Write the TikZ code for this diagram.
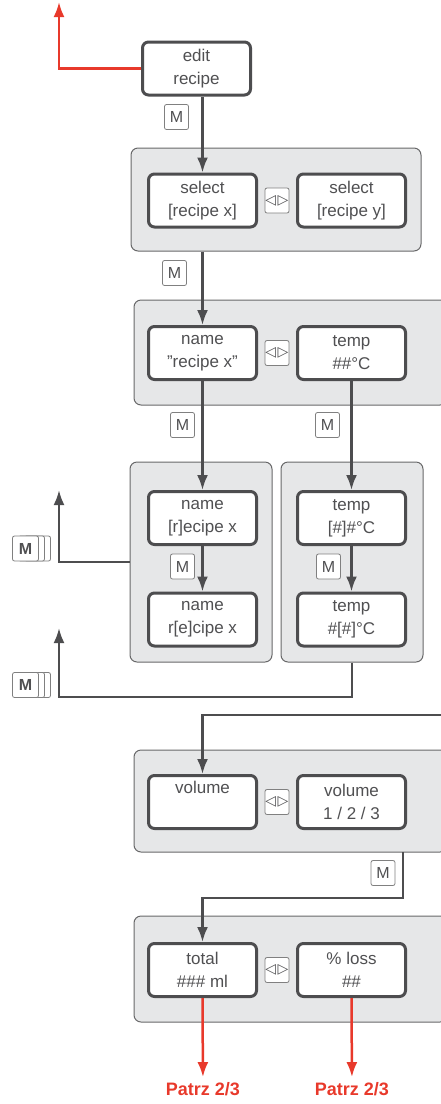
\documentclass[tikz,border=0pt]{standalone}
\usepackage{fontspec}
\setmainfont{Liberation Sans}
\newfontfamily\symfont{DejaVu Sans}
\usetikzlibrary{positioning,arrows.meta,shadows}
\definecolor{ink}{HTML}{505052}
\definecolor{frame}{HTML}{4D4D4F}
\definecolor{panelfill}{HTML}{E6E7E8}
\definecolor{patrz}{HTML}{E8392B}
\newcommand{\lr}{{\symfont\fontsize{14}{14}\selectfont ◁\kern1.5pt▷}}

\begin{document}
\begin{tikzpicture}[x=1pt, y=-1pt, node distance={149pt},
  screen/.style = {draw=frame, line width=3pt, rounded corners=6pt, fill=white,
    minimum width=108pt, minimum height=53pt, align=center, text=ink,
    font=\fontsize{17}{23}\selectfont},
  panel/.style = {draw=frame!85, line width=1pt, rounded corners=7pt, fill=panelfill},
  key/.style = {draw=gray, line width=0.8pt, rounded corners=2pt, fill=white,
    minimum width=24pt, minimum height=25pt, inner sep=0pt, text=ink,
    font=\fontsize{16}{16}\selectfont},
  keys/.style = {key, minimum width=26pt, font=\fontsize{16}{16}\selectfont\bfseries,
    double copy shadow={shadow xshift=6pt, shadow yshift=0pt, draw=gray, fill=white}},
  flow/.style = {draw=frame, line width=2.5pt, -{Latex[length=15pt,width=11pt]}},
  back/.style = {flow, draw=patrz},
  patrz/.style = {text=patrz, font=\fontsize{18}{18}\selectfont\bfseries, inner sep=5pt}]
\useasboundingbox (0,0) rectangle (441,1104);

% panels
\node[panel, minimum width=290pt, minimum height=103pt] (p1) at (276,199.5) {};
\node[panel, minimum width=313pt, minimum height=105pt] (p2) at (290.5,352.5) {};
\node[panel, minimum width=142pt, minimum height=200pt] (p3a) at (201,562) {};
\node[panel, minimum width=142pt, minimum height=200pt] (p3b) at (352,562) {};
\node[panel, minimum width=313pt, minimum height=102pt] (p4) at (290.5,801) {};
\node[panel, minimum width=313pt, minimum height=106pt] (p5) at (290.5,969) {};

% screens
\node[screen] (edit) at (196.5,68.5) {edit\\recipe};
\node[screen] (sx) at (202.5,200.5) {select\\{[recipe x]}};
\node[key, right of=sx, node distance=74.5pt] (lr1) {\lr};
\node[screen, right of=sx] (sy) {select\\{[recipe y]}};

\node[screen] (nx) at (202.5,353) {name\\”recipe x”};
\node[key, right of=nx, node distance=74.5pt] (lr2) {\lr};
\node[screen, right of=nx] (tmp) {temp\\\#\#°C};

\node[screen] (nr1) at (202.5,518) {name\\{[r]ecipe x}};
\node[screen, below of=nr1, node distance=101.5pt] (nr2) {name\\r[e]cipe x};
\node[screen, right of=nr1] (t1) {temp\\{[\#]\#°C}};
\node[screen, right of=nr2] (t2) {temp\\\#[\#]°C};

\node[screen] (vol) at (202.5,802) {volume\\\strut};
\node[key, right of=vol, node distance=74.5pt] (lr3) {\lr};
\node[screen, right of=vol] (vol2) {volume\\1 / 2 / 3};

\node[screen] (tot) at (202.5,970) {total\\\#\#\# ml};
\node[key, right of=tot, node distance=74.5pt] (lr4) {\lr};
\node[screen, right of=tot] (loss) {\% loss\\\#\#};

% keys
\node[key] (m1) at (176.5,117) {M};
\node[key] (m2) at (174.5,273) {M};
\node[key] (m3) at (182.5,425) {M};
\node[key] (m4) at (327.5,425) {M};
\node[key] (m5) at (182.5,566.5) {M};
\node[key] (m6) at (328.5,566.5) {M};
\node[key] (m7) at (383,873) {M};
\node[keys] (mm1) at (25.5,548.5) {M};
\node[keys] (mm2) at (25.5,685) {M};

\node[patrz] (pz1) at (203,1089) {Patrz 2/3};
\node[patrz] (pz2) at (352,1089) {Patrz 2/3};

\coordinate (exit) at (59,2);
\coordinate (up1) at (59,490);
\coordinate (bend2) at (59,697);
\coordinate (up2) at (59,628);
\coordinate (in4) at (447,715);
\coordinate (out4) at (403,852);
\coordinate (bend4) at (403,898);

% connectors
\draw[flow] (edit.south -| sx.north) -- (sx.north);
\draw[flow] (p1.south -| nx.north) -- (nx.north);
\draw[flow] (nx.south) -- (nr1.north);
\draw[flow] (tmp.south) -- (t1.north);
\draw[flow] (nr1.south) -- (nr2.north);
\draw[flow] (t1.south) -- (t2.north);
\draw[flow] (p3a.west) -| (up1);
\draw[flow] (p3b.south) |- (bend2) -- (up2);
\draw[flow] (in4) -| (vol.north);
\draw[flow] (out4) -- (bend4) -| (tot.north);
\draw[back] (edit.west) -| (exit);
\draw[back] (tot.south) -- (pz1);
\draw[back] (loss.south) -- (pz2);
\end{tikzpicture}
\end{document}
